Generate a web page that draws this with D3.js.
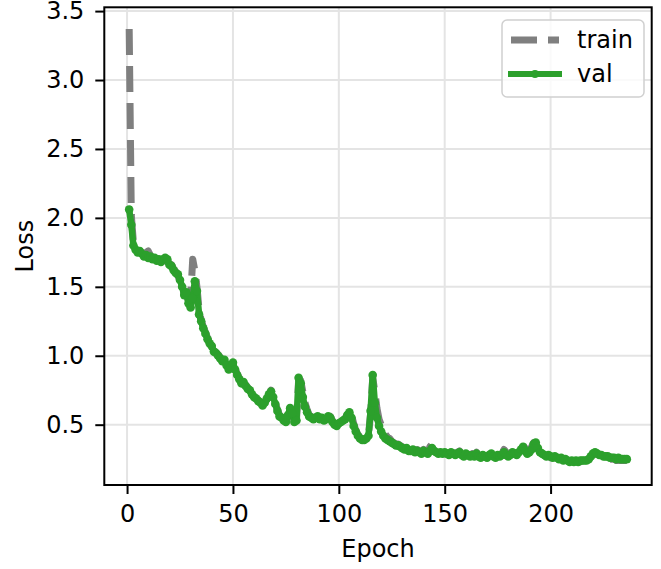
<!DOCTYPE html>
<html>
<head>
<meta charset="utf-8">
<script src="https://cdn.jsdelivr.net/npm/d3@7"></script>
<style>
  body { margin: 0; background: #fff; }
  svg { display: block; font-family: "DejaVu Sans", sans-serif; }
</style>
</head>
<body>
<svg id="chart" width="661" height="569"></svg>
<script>
// loss per epoch (epoch 1 .. 236)
let trainLoss = [
  3.37, 2.02, 1.82, 1.77, 1.76, 1.75, 1.75, 1.74, 1.75, 1.76,
  1.73, 1.71, 1.70, 1.70, 1.69, 1.68, 1.70, 1.69, 1.68, 1.67,
  1.66, 1.63, 1.61, 1.58, 1.54, 1.49, 1.45, 1.44, 1.40, 1.42,
  1.70, 1.62, 1.50, 1.33, 1.26, 1.21, 1.17, 1.13, 1.10, 1.07,
  1.04, 1.02, 1.01, 0.99, 0.97, 0.96, 0.94, 0.91, 0.92, 0.94,
  0.91, 0.87, 0.84, 0.81, 0.80, 0.79, 0.77, 0.75, 0.73, 0.71,
  0.69, 0.68, 0.66, 0.65, 0.66, 0.68, 0.72, 0.75, 0.71, 0.66,
  0.61, 0.57, 0.55, 0.54, 0.53, 0.56, 0.61, 0.59, 0.53, 0.53,
  0.82, 0.82, 0.74, 0.66, 0.61, 0.57, 0.56, 0.55, 0.55, 0.56,
  0.55, 0.55, 0.54, 0.55, 0.57, 0.56, 0.53, 0.51, 0.50, 0.51,
  0.52, 0.53, 0.55, 0.57, 0.59, 0.57, 0.51, 0.46, 0.43, 0.41,
  0.40, 0.39, 0.40, 0.42, 0.58, 0.84, 0.74, 0.62, 0.54, 0.50,
  0.46, 0.43, 0.41, 0.40, 0.38, 0.37, 0.36, 0.36, 0.35, 0.34,
  0.33, 0.34, 0.32, 0.32, 0.33, 0.31, 0.32, 0.31, 0.30, 0.32,
  0.31, 0.30, 0.34, 0.36, 0.33, 0.31, 0.30, 0.30, 0.29, 0.30,
  0.29, 0.29, 0.30, 0.29, 0.29, 0.30, 0.31, 0.29, 0.28, 0.29,
  0.28, 0.28, 0.29, 0.28, 0.30, 0.28, 0.27, 0.28, 0.27, 0.27,
  0.28, 0.30, 0.28, 0.27, 0.28, 0.28, 0.29, 0.32, 0.30, 0.28,
  0.28, 0.30, 0.29, 0.29, 0.31, 0.33, 0.35, 0.33, 0.30, 0.31,
  0.34, 0.37, 0.36, 0.33, 0.30, 0.29, 0.28, 0.27, 0.27, 0.26,
  0.26, 0.26, 0.26, 0.25, 0.25, 0.24, 0.24, 0.24, 0.23, 0.22,
  0.23, 0.22, 0.23, 0.23, 0.24, 0.24, 0.24, 0.25, 0.27, 0.28,
  0.29, 0.29, 0.28, 0.27, 0.27, 0.26, 0.26, 0.25, 0.25, 0.25,
  0.24, 0.24, 0.24, 0.24, 0.24, 0.24
];
let valLoss = [
  2.06, 1.95, 1.80, 1.77, 1.75, 1.76, 1.74, 1.72, 1.73, 1.71,
  1.72, 1.70, 1.71, 1.69, 1.70, 1.68, 1.70, 1.71, 1.70, 1.66,
  1.65, 1.62, 1.60, 1.59, 1.55, 1.50, 1.44, 1.46, 1.38, 1.35,
  1.42, 1.54, 1.47, 1.30, 1.25, 1.20, 1.16, 1.12, 1.09, 1.07,
  1.03, 1.02, 1.00, 0.98, 0.96, 0.97, 0.93, 0.90, 0.92, 0.95,
  0.90, 0.86, 0.83, 0.80, 0.81, 0.78, 0.76, 0.75, 0.72, 0.70,
  0.69, 0.67, 0.66, 0.64, 0.66, 0.69, 0.72, 0.74, 0.70, 0.65,
  0.60, 0.56, 0.55, 0.53, 0.52, 0.57, 0.62, 0.58, 0.52, 0.53,
  0.84, 0.80, 0.70, 0.63, 0.59, 0.56, 0.55, 0.54, 0.55, 0.56,
  0.54, 0.55, 0.53, 0.54, 0.56, 0.55, 0.52, 0.50, 0.49, 0.51,
  0.52, 0.53, 0.54, 0.57, 0.59, 0.55, 0.49, 0.45, 0.42, 0.40,
  0.39, 0.39, 0.40, 0.42, 0.60, 0.86, 0.66, 0.55, 0.49, 0.45,
  0.42, 0.40, 0.39, 0.38, 0.37, 0.36, 0.35, 0.35, 0.34, 0.33,
  0.32, 0.33, 0.31, 0.31, 0.32, 0.30, 0.31, 0.30, 0.29, 0.31,
  0.30, 0.29, 0.31, 0.33, 0.31, 0.30, 0.29, 0.30, 0.29, 0.30,
  0.29, 0.28, 0.30, 0.29, 0.28, 0.29, 0.30, 0.28, 0.27, 0.29,
  0.28, 0.27, 0.28, 0.27, 0.29, 0.27, 0.26, 0.28, 0.27, 0.26,
  0.28, 0.29, 0.27, 0.26, 0.28, 0.27, 0.28, 0.30, 0.28, 0.27,
  0.28, 0.30, 0.29, 0.28, 0.30, 0.32, 0.34, 0.31, 0.29, 0.30,
  0.32, 0.36, 0.37, 0.33, 0.30, 0.29, 0.28, 0.27, 0.28, 0.27,
  0.26, 0.27, 0.26, 0.25, 0.26, 0.24, 0.25, 0.24, 0.23, 0.24,
  0.23, 0.24, 0.23, 0.24, 0.24, 0.24, 0.24, 0.25, 0.27, 0.29,
  0.30, 0.29, 0.28, 0.28, 0.27, 0.27, 0.27, 0.26, 0.26, 0.26,
  0.25, 0.26, 0.25, 0.25, 0.25, 0.25
];
let xTicks = [0, 50, 100, 150, 200];
let yTicks = [0.5, 1.0, 1.5, 2.0, 2.5, 3.0, 3.5];
let seriesNames = ["train", "val"];

let svg = d3.select("#chart");
let box = { left: 104.3, right: 651.7, top: 7.3, bottom: 485 };
let fontSize = 24;

// matplotlib style 5% padding around the data
function padded(ext) {
  let pad = (ext[1] - ext[0]) * 0.05;
  return [ext[0] - pad, ext[1] + pad];
}

let epochs = d3.range(1, valLoss.length + 1);
let x = d3.scaleLinear()
  .domain(padded(d3.extent(epochs)))
  .range([box.left, box.right]);
let y = d3.scaleLinear()
  .domain(padded(d3.extent(trainLoss.concat(valLoss))))
  .range([box.bottom, box.top]);

// grid
let grid = svg.append("g");
grid.selectAll(".gx").data(xTicks).enter().append("line")
  .attr("x1", d => x(d)).attr("x2", d => x(d))
  .attr("y1", box.top).attr("y2", box.bottom)
  .attr("stroke", "#e4e4e4").attr("stroke-width", 2);
grid.selectAll(".gy").data(yTicks).enter().append("line")
  .attr("y1", d => y(d)).attr("y2", d => y(d))
  .attr("x1", box.left).attr("x2", box.right)
  .attr("stroke", "#e4e4e4").attr("stroke-width", 2);

let line = d3.line().x((d, i) => x(epochs[i])).y(d => y(d));

svg.append("path")
  .datum(trainLoss)
  .attr("d", line)
  .attr("fill", "none")
  .attr("stroke", "#7f7f7f")
  .attr("stroke-width", 7)
  .attr("stroke-dasharray", "26,11")
  .attr("stroke-linejoin", "round");

svg.append("path")
  .datum(valLoss)
  .attr("d", line)
  .attr("fill", "none")
  .attr("stroke", "#2ca02c")
  .attr("stroke-width", 6.5)
  .attr("stroke-linejoin", "round")
  .attr("stroke-linecap", "square");

svg.append("g").selectAll("circle")
  .data(valLoss).enter().append("circle")
  .attr("cx", (d, i) => x(epochs[i]))
  .attr("cy", d => y(d))
  .attr("r", 4.3)
  .attr("fill", "#2ca02c");

// frame
svg.append("rect")
  .attr("x", box.left).attr("y", box.top)
  .attr("width", box.right - box.left).attr("height", box.bottom - box.top)
  .attr("fill", "none").attr("stroke", "#000").attr("stroke-width", 2);

// axes
let xAxis = svg.append("g")
  .attr("transform", `translate(0,${box.bottom})`)
  .call(d3.axisBottom(x).tickValues(xTicks).tickSize(9).tickSizeOuter(0).tickPadding(11));
let yAxis = svg.append("g")
  .attr("transform", `translate(${box.left},0)`)
  .call(d3.axisLeft(y).tickValues(yTicks).tickFormat(d3.format(".1f"))
    .tickSize(9).tickSizeOuter(0).tickPadding(11));
[xAxis, yAxis].forEach(a => {
  a.select(".domain").remove();
  a.selectAll(".tick line").attr("stroke", "#000").attr("stroke-width", 2);
  a.selectAll(".tick text")
    .attr("fill", "#000")
    .style("font-size", fontSize + "px")
    .style("font-family", "DejaVu Sans");
});

svg.append("text")
  .attr("x", (box.left + box.right) / 2).attr("y", 557)
  .attr("text-anchor", "middle")
  .style("font-size", fontSize + "px")
  .text("Epoch");
svg.append("text")
  .attr("transform", `translate(33,${(box.top + box.bottom) / 2}) rotate(-90)`)
  .attr("text-anchor", "middle")
  .style("font-size", fontSize + "px")
  .text("Loss");

// legend
let legend = svg.append("g");
legend.append("rect")
  .attr("x", 502).attr("y", 20).attr("width", 142).attr("height", 77)
  .attr("rx", 5)
  .attr("fill", "#fff").attr("fill-opacity", 0.8)
  .attr("stroke", "#d0d0d0").attr("stroke-width", 1.5);
let rowY = [40, 74];
legend.append("line")
  .attr("x1", 511).attr("x2", 559).attr("y1", rowY[0]).attr("y2", rowY[0])
  .attr("stroke", "#7f7f7f").attr("stroke-width", 7).attr("stroke-dasharray", "26,11");
legend.append("line")
  .attr("x1", 511).attr("x2", 559).attr("y1", rowY[1]).attr("y2", rowY[1])
  .attr("stroke", "#2ca02c").attr("stroke-width", 6).attr("stroke-linecap", "square");
legend.append("circle")
  .attr("cx", 535).attr("cy", rowY[1]).attr("r", 4).attr("fill", "#2ca02c");
legend.selectAll("text").data(seriesNames).enter().append("text")
  .attr("x", 577).attr("y", (d, i) => rowY[i] + 8)
  .style("font-size", fontSize + "px")
  .text(d => d);
</script>
</body>
</html>
